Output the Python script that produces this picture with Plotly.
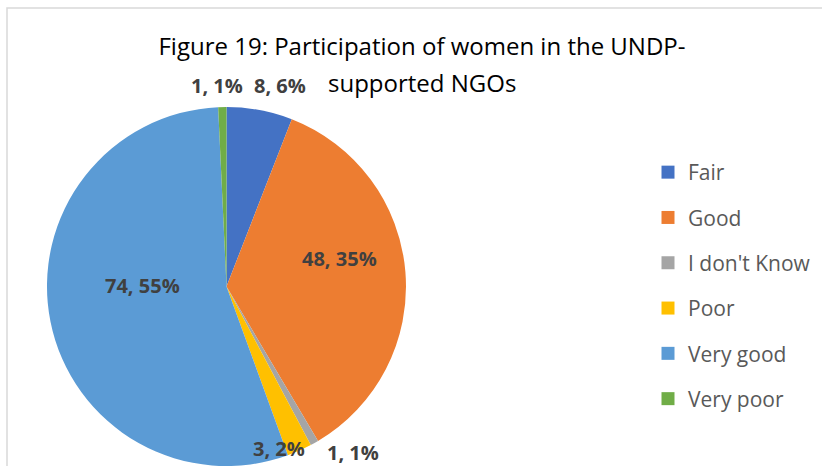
import math
import plotly.graph_objects as go

# ---- data ----
categories = ["Fair", "Good", "I don't Know", "Poor", "Very good", "Very poor"]
counts = [8, 48, 1, 3, 74, 1]
pct_labels = [6, 35, 1, 2, 55, 1]
colors = ["#4472C4", "#ED7D31", "#A5A5A5", "#FFC000", "#5B9BD5", "#70AD47"]

title_line1 = "Figure 19: Participation of women in the UNDP-"
title_line2 = "supported NGOs"

# ---- layout constants ----
W, H = 822, 466
FONT = "Open Sans"
dom_x = [46 / W, 407 / W]
dom_y = [0.0, (H - 107) / H]

# label placement style: (angle nudge in degrees, radial factor)
label_style = [(4.3, 1.16), (-9.0, 0.65), (-8.0, 1.16), (6.0, 0.95), (12.0, 0.467), (-1.3, 1.12)]

fig = go.Figure()
fig.add_trace(go.Pie(
    labels=categories,
    values=counts,
    sort=False,
    direction="clockwise",
    rotation=0,
    marker=dict(colors=colors, line=dict(width=0)),
    textinfo="none",
    hoverinfo="label+value+percent",
    showlegend=False,
    domain=dict(x=dom_x, y=dom_y),
))

# legend entries as separate groups so the spacing can be controlled
for cat, col in zip(categories, colors):
    fig.add_trace(go.Scatter(
        x=[None], y=[None], mode="markers", name=cat, legendgroup=cat,
        marker=dict(symbol="square", size=13, color=col),
        showlegend=True, hoverinfo="skip",
    ))

# data labels derived from the slice angles
wpx = (dom_x[1] - dom_x[0]) * W
hpx = (dom_y[1] - dom_y[0]) * H
r = min(wpx, hpx) / 2
cx = (dom_x[0] + dom_x[1]) / 2 * W
cy = H - (dom_y[0] + dom_y[1]) / 2 * H
total = sum(counts)
cum = 0
annotations = []
for v, p, (dang, fac) in zip(counts, pct_labels, label_style):
    mid = (cum + v / 2) / total * 360
    cum += v
    ang = math.radians(mid + dang)
    px = cx + fac * r * math.sin(ang)
    py = cy - fac * r * math.cos(ang)
    annotations.append(dict(
        x=px / W, y=1 - py / H, xref="paper", yref="paper",
        text=f"<b>{v}, {p}%</b>", showarrow=False,
        font=dict(family=FONT, size=20, color="#404040"),
        xanchor="center", yanchor="middle",
    ))

# second title line (Excel-style wider line spacing)
annotations.append(dict(
    x=422 / W, y=1 - 83 / H, xref="paper", yref="paper",
    text=title_line2, showarrow=False,
    font=dict(family=FONT, size=24, color="#000000"),
    xanchor="center", yanchor="middle",
))

fig.update_layout(
    width=W, height=H,
    margin=dict(l=0, r=0, t=0, b=0),
    paper_bgcolor="white",
    plot_bgcolor="white",
    xaxis=dict(visible=False),
    yaxis=dict(visible=False),
    title=dict(
        text=title_line1, x=422 / W, xanchor="center",
        y=1 - 47 / H, yanchor="middle", yref="container",
        font=dict(family=FONT, size=24, color="#000000"),
    ),
    legend=dict(
        x=648 / W, y=1 - 152 / H, xanchor="left", yanchor="top",
        traceorder="grouped", tracegroupgap=15,
        font=dict(family=FONT, size=21, color="#595959"),
        bgcolor="rgba(0,0,0,0)",
    ),
    annotations=annotations,
    shapes=[dict(
        type="rect", xref="paper", yref="paper",
        x0=7 / W, x1=1.05, y0=-0.05, y1=1 - 8 / H,
        line=dict(color="#D9D9D9", width=1.5), fillcolor="rgba(0,0,0,0)",
    )],
)

fig.write_html("out.html")
